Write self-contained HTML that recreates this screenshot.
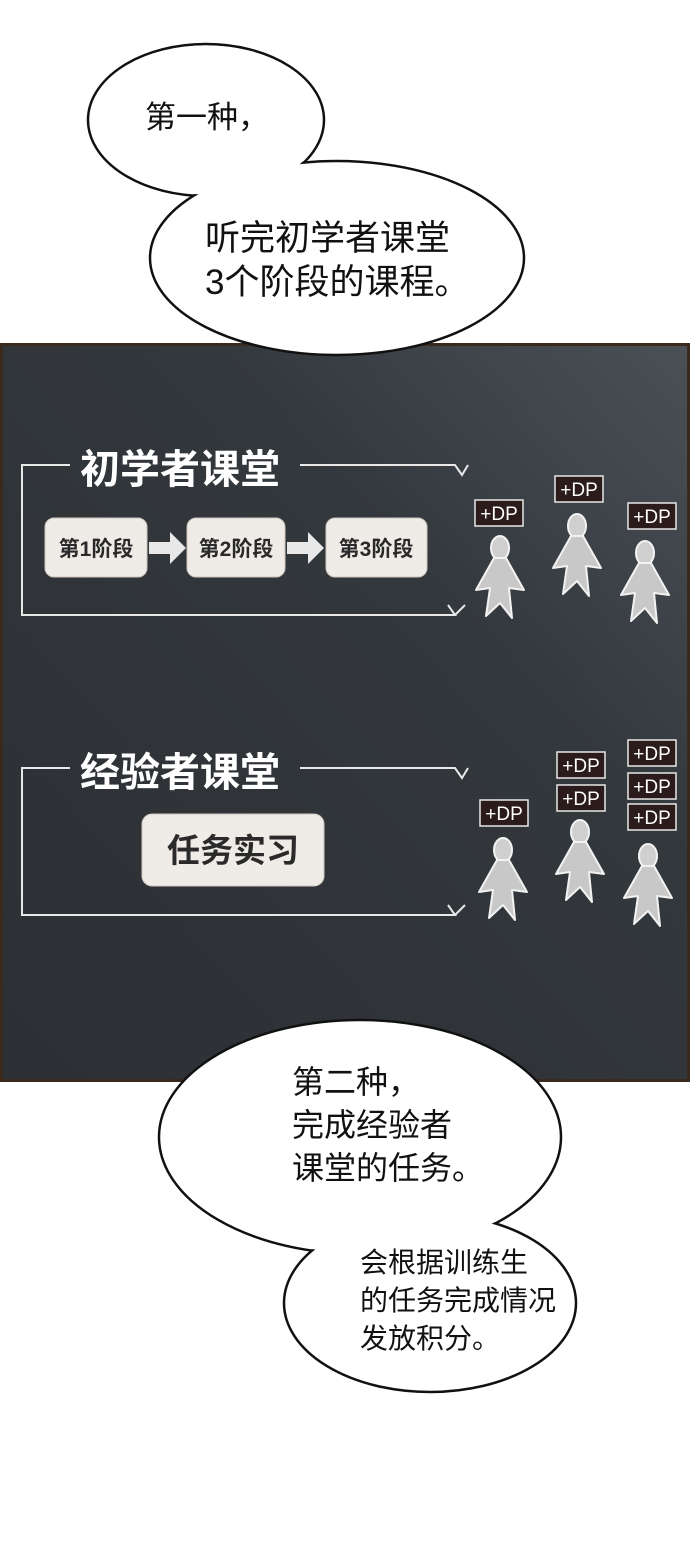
<!DOCTYPE html>
<html><head><meta charset="utf-8"><style>
html,body{margin:0;padding:0;background:#fff;}
svg{display:block;}
text{font-family:"Liberation Sans","Noto Sans CJK SC",sans-serif;}
</style></head><body>
<svg width="690" height="1550" viewBox="0 0 690 1550" xmlns="http://www.w3.org/2000/svg">
<defs>
<linearGradient id="bg" x1="1" y1="0" x2="0" y2="1">
<stop offset="0" stop-color="#4a5156"/><stop offset="0.35" stop-color="#33383d"/><stop offset="1" stop-color="#2c2f33"/>
</linearGradient>
<g id="fig">
<ellipse cx="0" cy="0" rx="9" ry="12" fill="#cfcfcf" stroke="#f2f2f2" stroke-width="2"/>
<path d="M-6,10 L-24,42 L-10,40 L-14,68 L0,55 L12,70 L9,40 L24,42 L6,10 Z" fill="#c8c8c8" stroke="#f2f2f2" stroke-width="2" stroke-linejoin="round"/>
</g>
<g id="dp">
<rect x="0" y="0" width="48" height="26" fill="#2b1b1b" stroke="#e8e8e8" stroke-width="1.5"/>
<text x="24" y="20" font-size="19" fill="#fff" text-anchor="middle">+DP</text>
</g>
</defs>
<!-- board -->
<rect x="1.5" y="344.5" width="687" height="736" fill="url(#bg)" stroke="#3b2a1c" stroke-width="3"/>
<!-- top bubbles -->
<g fill="#fff" stroke="#111" stroke-width="2.5">
<ellipse cx="206" cy="120" rx="118" ry="76"/>
<ellipse cx="337" cy="258" rx="187" ry="97"/>
</g>
<ellipse cx="206" cy="120" rx="116.5" ry="74.5" fill="#fff"/>
<text x="145" y="128" font-size="31" fill="#111">第一种，</text>
<text x="205" y="250" font-size="35" fill="#111">听完初学者课堂</text>
<text x="205" y="294" font-size="35" fill="#111">3个阶段的课程。</text>
<g stroke="#e8e8e8" stroke-width="2" fill="none">
<path d="M70,465 H22 V615 H455 L448,605 M455,615 L465,605"/>
<path d="M300,465 H455 L462,475 L468,465"/>
<path d="M70,768 H22 V915 H455 L448,905 M455,915 L465,905"/>
<path d="M300,768 H455 L462,778 L468,768"/>
</g>
<text x="80" y="483" font-size="40" font-weight="bold" fill="#fff">初学者课堂</text>
<text x="80" y="786" font-size="40" font-weight="bold" fill="#fff">经验者课堂</text>
<g fill="#efebe7" stroke="#cfc6bd" stroke-width="1">
<rect x="45" y="518" width="102" height="59" rx="9"/>
<rect x="187" y="518" width="98" height="59" rx="9"/>
<rect x="326" y="518" width="101" height="59" rx="9"/>
<rect x="142" y="814" width="182" height="72" rx="10"/>
</g>
<g fill="#2a2a2a" font-weight="bold">
<text x="96" y="556" font-size="21" text-anchor="middle">第1阶段</text>
<text x="236" y="556" font-size="21" text-anchor="middle">第2阶段</text>
<text x="376" y="556" font-size="21" text-anchor="middle">第3阶段</text>
<text x="233" y="862" font-size="33" text-anchor="middle">任务实习</text>
</g>
<g fill="#e8e8e8">
<path d="M149,542 H170 V532 L186,548 L170,564 V554 H149 Z"/>
<path d="M287,542 H308 V532 L324,548 L308,564 V554 H287 Z"/>
</g>
<use href="#fig" x="500" y="548"/>
<use href="#fig" x="577" y="526"/>
<use href="#fig" x="645" y="553"/>
<use href="#dp" x="475" y="500"/>
<use href="#dp" x="555" y="476"/>
<use href="#dp" x="628" y="503"/>
<use href="#fig" x="503" y="850"/>
<use href="#fig" x="580" y="832"/>
<use href="#fig" x="648" y="856"/>
<use href="#dp" x="480" y="800"/>
<use href="#dp" x="557" y="752"/>
<use href="#dp" x="557" y="785"/>
<use href="#dp" x="628" y="740"/>
<use href="#dp" x="628" y="773"/>
<use href="#dp" x="628" y="804"/>
<!-- bottom bubbles -->
<g fill="#fff" stroke="#111" stroke-width="2.5">
<ellipse cx="360" cy="1137" rx="201" ry="117"/>
<ellipse cx="430" cy="1303" rx="146" ry="89"/>
</g>
<ellipse cx="360" cy="1137" rx="199.5" ry="115.5" fill="#fff"/>
<text x="292" y="1093" font-size="32" fill="#111">第二种，</text>
<text x="292" y="1136" font-size="32" fill="#111">完成经验者</text>
<text x="292" y="1179" font-size="32" fill="#111">课堂的任务。</text>
<text x="360" y="1272" font-size="28" fill="#111">会根据训练生</text>
<text x="360" y="1310" font-size="28" fill="#111">的任务完成情况</text>
<text x="360" y="1348" font-size="28" fill="#111">发放积分。</text>
</svg>
</body></html>
